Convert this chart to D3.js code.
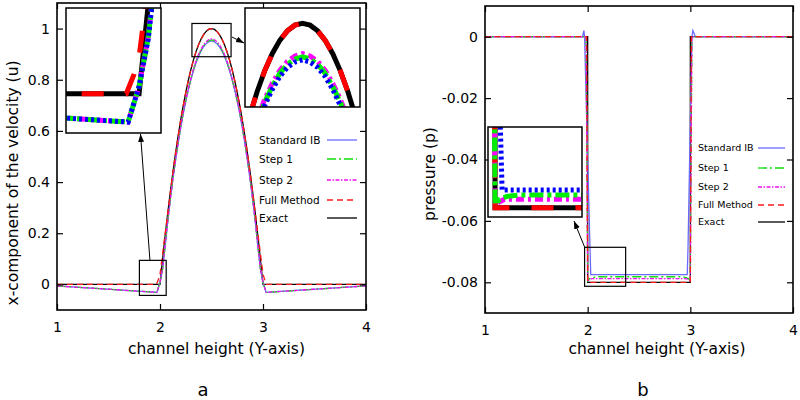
<!DOCTYPE html>
<html><head><meta charset="utf-8">
<script src="https://cdn.jsdelivr.net/npm/d3@7"></script>
<style>body{margin:0;background:#fff} svg{display:block} text{font-family:"DejaVu Sans",sans-serif;fill:#000}</style>
</head><body><svg id="c" width="800" height="400"></svg>
<script>
// ---------------- DATA ----------------
const seriesNames = ["Standard IB", "Step 1", "Step 2", "Full Method", "Exact"];
const xTicks = [1, 2, 3, 4];
const uTicks = [0, 0.2, 0.4, 0.6, 0.8, 1];
const pTicks = [0, -0.02, -0.04, -0.06, -0.08];

// velocity (panel a)
const uExactX = [1.0, 2.0, 2.025, 2.05, 2.075, 2.1, 2.125, 2.15, 2.175, 2.2, 2.225, 2.25, 2.275, 2.3, 2.325, 2.35, 2.375, 2.4, 2.425, 2.45, 2.475, 2.5, 2.525, 2.55, 2.575, 2.6, 2.625, 2.65, 2.675, 2.7, 2.725, 2.75, 2.775, 2.8, 2.825, 2.85, 2.875, 2.9, 2.925, 2.95, 2.975, 3.0, 4.0];
const uExact = [0, 0, 0.0975, 0.19, 0.2775, 0.36, 0.4375, 0.51, 0.5775, 0.64, 0.6975, 0.75, 0.7975, 0.84, 0.8775, 0.91, 0.9375, 0.96, 0.9775, 0.99, 0.9975, 1.0, 0.9975, 0.99, 0.9775, 0.96, 0.9375, 0.91, 0.8775, 0.84, 0.7975, 0.75, 0.6975, 0.64, 0.5775, 0.51, 0.4375, 0.36, 0.2775, 0.19, 0.0975, 0, 0];

const uNumX = [1.0, 1.97, 2.0, 2.025, 2.05, 2.075, 2.1, 2.125, 2.15, 2.175, 2.2, 2.225, 2.25, 2.275, 2.3, 2.325, 2.35, 2.375, 2.4, 2.425, 2.45, 2.475, 2.5, 2.525, 2.55, 2.575, 2.6, 2.625, 2.65, 2.675, 2.7, 2.725, 2.75, 2.775, 2.8, 2.825, 2.85, 2.875, 2.9, 2.925, 2.95, 2.975, 3.0, 3.03, 4.0];
const uStdIB = [-0.006, -0.031, 0.008, 0.06, 0.15, 0.245, 0.33, 0.41, 0.482, 0.548, 0.61, 0.666, 0.715, 0.76, 0.8, 0.835, 0.866, 0.892, 0.913, 0.93, 0.942, 0.949, 0.952, 0.949, 0.942, 0.93, 0.913, 0.892, 0.866, 0.835, 0.8, 0.76, 0.715, 0.666, 0.61, 0.548, 0.482, 0.41, 0.33, 0.245, 0.15, 0.06, 0.008, -0.031, -0.006];
const uStep1 = [-0.006, -0.031, 0.008, 0.061, 0.151, 0.247, 0.332, 0.412, 0.484, 0.551, 0.613, 0.669, 0.718, 0.763, 0.803, 0.839, 0.87, 0.896, 0.917, 0.934, 0.946, 0.953, 0.956, 0.953, 0.946, 0.934, 0.917, 0.896, 0.87, 0.839, 0.803, 0.763, 0.718, 0.669, 0.613, 0.551, 0.484, 0.412, 0.332, 0.247, 0.151, 0.061, 0.008, -0.031, -0.006];
const uStep2 = [-0.006, -0.031, 0.008, 0.062, 0.152, 0.248, 0.334, 0.414, 0.486, 0.553, 0.616, 0.672, 0.721, 0.766, 0.806, 0.842, 0.874, 0.9, 0.921, 0.938, 0.95, 0.957, 0.96, 0.957, 0.95, 0.938, 0.921, 0.9, 0.874, 0.842, 0.806, 0.766, 0.721, 0.672, 0.616, 0.553, 0.486, 0.414, 0.334, 0.248, 0.152, 0.062, 0.008, -0.031, -0.006];

const uFullX = [1.0, 1.965, 1.985, 2.0, 2.025, 2.05, 2.075, 2.1, 2.125, 2.15, 2.175, 2.2, 2.225, 2.25, 2.275, 2.3, 2.325, 2.35, 2.375, 2.4, 2.425, 2.45, 2.475, 2.5, 2.525, 2.55, 2.575, 2.6, 2.625, 2.65, 2.675, 2.7, 2.725, 2.75, 2.775, 2.8, 2.825, 2.85, 2.875, 2.9, 2.925, 2.95, 2.975, 3.0, 3.015, 3.035, 4.0];
const uFull = [0, 0, 0.02, 0.04, 0.12, 0.2, 0.2775, 0.36, 0.4375, 0.51, 0.5775, 0.64, 0.6975, 0.75, 0.7975, 0.84, 0.8775, 0.91, 0.9375, 0.96, 0.9775, 0.99, 0.9975, 1.0, 0.9975, 0.99, 0.9775, 0.96, 0.9375, 0.91, 0.8775, 0.84, 0.7975, 0.75, 0.6975, 0.64, 0.5775, 0.51, 0.4375, 0.36, 0.2775, 0.2, 0.12, 0.04, 0.02, 0, 0];

// pressure (panel b)
const pExactX = [1, 2, 2, 3, 3, 4];
const pExact = [0, 0, -0.08, -0.08, 0, 0];
const pFullX = [1, 1.99, 2.0, 3.0, 3.01, 4];
const pFull = [0, 0, -0.08, -0.08, 0, 0];
const pStep1X = [1, 1.985, 2.0, 2.02, 2.05, 2.1, 2.9, 2.95, 2.98, 3.0, 3.015, 4];
const pStep1 = [0, 0, -0.0795, -0.0788, -0.0784, -0.0782, -0.0782, -0.0784, -0.0788, -0.0795, 0, 0];
const pStep2X = [1, 1.985, 2.0, 2.04, 2.96, 3.0, 3.015, 4];
const pStep2 = [0, 0, -0.0795, -0.0788, -0.0788, -0.0795, 0, 0];
const pStdX = [1, 1.95, 1.963, 1.97, 2.022, 2.03, 2.97, 2.978, 3.015, 3.025, 3.05, 4];
const pStd = [0, 0, 0.002, 0, -0.068, -0.0775, -0.0775, -0.068, 0, 0.002, 0, 0];

// ---------------- STYLES ----------------
const style = {
  "Standard IB": {color: "#6a6aff", dash: null, icolor: "#0000ff", idash: "3,3"},
  "Step 1":      {color: "#11dd11", dash: "9,3,2,3", icolor: "#00ee00", idash: "14,4,4,4"},
  "Step 2":      {color: "#ee11ee", dash: "4,1.5,1.5,1.5", icolor: "#ff00ff", idash: "8,4,3,4"},
  "Full Method": {color: "#ff1a1a", dash: "6,4", icolor: "#ff0000", idash: "22,22"},
  "Exact":       {color: "#000000", dash: null, icolor: "#000000", idash: null}
};
const drawOrder = ["Exact", "Standard IB", "Step 1", "Step 2", "Full Method"];
const insetOrder = ["Exact", "Full Method", "Step 2", "Step 1", "Standard IB"];

const svg = d3.select("#c");
const defs = svg.append("defs");
defs.append("marker").attr("id", "arr").attr("markerUnits", "userSpaceOnUse")
  .attr("markerWidth", 10).attr("markerHeight", 8).attr("refX", 8).attr("refY", 3)
  .attr("orient", "auto")
  .append("path").attr("d", "M0,0 L8,3 L0,6 Z").attr("fill", "#000");

let clipId = 0;
function mkClip(x0, y0, x1, y1) {
  const id = "cl" + (clipId++);
  defs.append("clipPath").attr("id", id).append("rect")
    .attr("x", x0).attr("y", y0).attr("width", x1 - x0).attr("height", y1 - y0);
  return "url(#" + id + ")";
}

function fmtNum(d) {
  if (d === 0) return "0";
  if (Number.isInteger(d)) return String(d);
  return Math.abs(d) < 0.1 ? d.toFixed(2) : d.toFixed(1);
}

function drawPanel(cfg) {
  const P = cfg.plot;
  const x = d3.scaleLinear().domain([1, 4]).range([P.x0, P.x1]);
  const y = d3.scaleLinear().domain(cfg.yDom).range([P.y1, P.y0]);
  const g = svg.append("g");

  const lg = g.append("g").attr("clip-path", mkClip(P.x0, P.y0, P.x1, P.y1));
  drawOrder.forEach(name => {
    const s = cfg.series[name];
    const pts = s.xs.map((v, i) => [v, s.ys[i]]);
    lg.append("path")
      .attr("d", d3.line().x(d => x(d[0])).y(d => y(d[1]))(pts))
      .attr("fill", "none").attr("stroke", style[name].color)
      .attr("stroke-width", 1.3)
      .attr("stroke-dasharray", style[name].dash);
  });

  const ax = (gen, tx, ty) => {
    const a = g.append("g").attr("transform", `translate(${tx},${ty})`).call(gen);
    a.select(".domain").remove();
    a.selectAll("line").attr("stroke", "#000").attr("stroke-width", 1.2);
    a.selectAll("text").attr("font-size", 14).attr("font-family", "DejaVu Sans").attr("fill", "#000");
    return a;
  };
  ax(d3.axisBottom(x).tickValues(xTicks).tickSizeInner(-6).tickSizeOuter(0).tickPadding(12).tickFormat(fmtNum), 0, P.y1);
  ax(d3.axisTop(x).tickValues(xTicks).tickSizeInner(-6).tickSizeOuter(0).tickFormat(""), 0, P.y0);
  ax(d3.axisLeft(y).tickValues(cfg.yTicks).tickSizeInner(-6).tickSizeOuter(0).tickPadding(7).tickFormat(fmtNum), P.x0, 0);
  ax(d3.axisRight(y).tickValues(cfg.yTicks).tickSizeInner(-6).tickSizeOuter(0).tickFormat(""), P.x1, 0);

  cfg.insets.forEach(ins => {
    const zx0 = x(ins.xDom[0]), zx1 = x(ins.xDom[1]);
    const zy0 = y(ins.yDom[1]), zy1 = y(ins.yDom[0]);
    g.append("rect").attr("x", zx0).attr("y", zy0).attr("width", zx1 - zx0).attr("height", zy1 - zy0)
      .attr("fill", "none").attr("stroke", "#000").attr("stroke-width", 1.2);
    const [bx0, by0, bx1, by1] = ins.box;
    g.append("rect").attr("x", bx0).attr("y", by0).attr("width", bx1 - bx0).attr("height", by1 - by0)
      .attr("fill", "#fff");
    const ix = d3.scaleLinear().domain(ins.xDom).range([bx0, bx1]);
    const iy = d3.scaleLinear().domain(ins.yDom).range([by1, by0]);
    const ig = g.append("g").attr("clip-path", mkClip(bx0, by0, bx1, by1));
    insetOrder.forEach(name => {
      const s = cfg.series[name];
      const pts = s.xs.map((v, i) => [v, s.ys[i]]);
      ig.append("path")
        .attr("d", d3.line().x(d => ix(d[0])).y(d => iy(d[1]))(pts))
        .attr("fill", "none").attr("stroke", style[name].icolor)
        .attr("stroke-width", 5)
        .attr("stroke-dasharray", style[name].idash);
    });
    g.append("rect").attr("x", bx0).attr("y", by0).attr("width", bx1 - bx0).attr("height", by1 - by0)
      .attr("fill", "none").attr("stroke", "#000").attr("stroke-width", 1.5);
    const a = ins.arrow;
    g.append("line").attr("x1", a[0]).attr("y1", a[1]).attr("x2", a[2]).attr("y2", a[3])
      .attr("stroke", "#000").attr("stroke-width", 1).attr("marker-end", "url(#arr)");
  });

  g.append("rect").attr("x", P.x0).attr("y", P.y0).attr("width", P.x1 - P.x0).attr("height", P.y1 - P.y0)
    .attr("fill", "none").attr("stroke", "#000").attr("stroke-width", 1.6);

  const L = cfg.legend;
  seriesNames.forEach((name, i) => {
    const yy = L.rows[i];
    g.append("rect").attr("x", L.tx - 2).attr("y", yy - 7).attr("width", L.l1 - L.tx + 4).attr("height", 14).attr("fill", "#fff");
    g.append("text").attr("x", L.tx).attr("y", yy).attr("dy", "0.36em")
      .attr("font-size", L.fs).text(name);
    g.append("line").attr("x1", L.l0).attr("x2", L.l1).attr("y1", yy).attr("y2", yy)
      .attr("stroke", style[name].color).attr("stroke-width", 1.3)
      .attr("stroke-dasharray", style[name].dash);
  });

  g.append("text").attr("transform", `translate(${cfg.ytX},${cfg.ytY}) rotate(-90)`)
    .attr("text-anchor", "middle").attr("dy", "0.35em").attr("font-size", 15.5).text(cfg.ytitle);
  g.append("text").attr("x", (P.x0 + P.x1) / 2 + cfg.xtOff).attr("y", 354)
    .attr("text-anchor", "middle").attr("font-size", 15.5).text("channel height (Y-axis)");
  g.append("text").attr("x", cfg.labelX).attr("y", 396)
    .attr("text-anchor", "middle").attr("font-size", 18).text(cfg.label);
}

drawPanel({
  plot: {x0: 57, x1: 366, y0: 3, y1: 310},
  yDom: [-0.1, 1.1], yTicks: uTicks,
  series: {
    "Standard IB": {xs: uNumX, ys: uStdIB},
    "Step 1": {xs: uNumX, ys: uStep1},
    "Step 2": {xs: uNumX, ys: uStep2},
    "Full Method": {xs: uFullX, ys: uFull},
    "Exact": {xs: uExactX, ys: uExact}
  },
  insets: [
    {xDom: [1.8, 2.06], yDom: [-0.043, 0.094], box: [66, 8, 161, 133], arrow: [150, 261, 140.5, 134]},
    {xDom: [2.31, 2.69], yDom: [0.89, 1.02], box: [245, 8, 360, 107], arrow: [232, 37, 244, 43]}
  ],
  legend: {tx: 259, l0: 327, l1: 357, fs: 10.5, rows: [140, 159, 180, 200, 218]},
  ytitle: "x-component of the velocity (u)", ytX: 13, ytY: 183,
  xtOff: 5, label: "a", labelX: 203
});

drawPanel({
  plot: {x0: 485, x1: 793, y0: 6, y1: 313},
  yDom: [-0.09, 0.01], yTicks: pTicks,
  series: {
    "Standard IB": {xs: pStdX, ys: pStd},
    "Step 1": {xs: pStep1X, ys: pStep1},
    "Step 2": {xs: pStep2X, ys: pStep2},
    "Full Method": {xs: pFullX, ys: pFull},
    "Exact": {xs: pExactX, ys: pExact}
  },
  insets: [
    {xDom: [1.97, 2.37], yDom: [-0.0813, -0.0686], box: [488, 127, 582, 217], arrow: [585, 248, 574, 221]}
  ],
  legend: {tx: 698, l0: 758, l1: 785, fs: 9.5, rows: [148, 168, 187, 205, 222]},
  ytitle: "pressure (p)", ytX: 430, ytY: 174,
  xtOff: 18, label: "b", labelX: 643
});
</script>
</body></html>
